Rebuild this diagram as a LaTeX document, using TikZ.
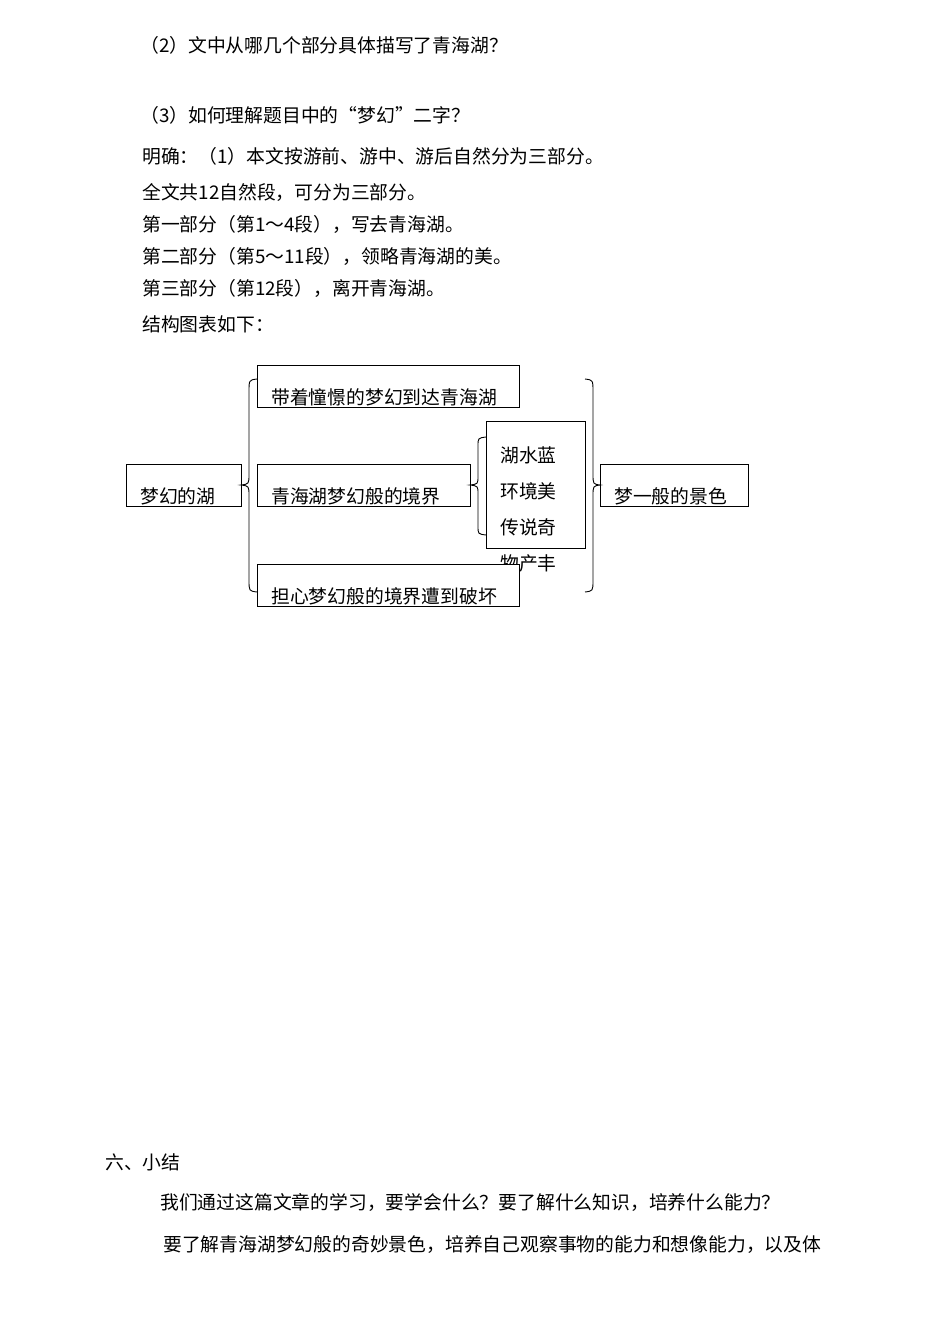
\documentclass[tikz,border=0pt]{standalone}
\usepackage{fontspec}
\setmainfont{Noto Sans CJK SC}
\begin{document}
\begin{tikzpicture}[x=1pt,y=-1pt,
 t/.style={anchor=base west,inner sep=0pt,font=\fontsize{18.8}{20}\selectfont},
 bx/.style={draw,line width=0.9pt,fill=white},
 br/.style={line width=0.9pt}]
\useasboundingbox (0,0) rectangle (950,1342);
\node[t] (l1) at (140,52) {（2）文中从哪几个部分具体描写了青海湖？};
\node[t] (l2) at (140,122) {（3）如何理解题目中的“梦幻”二字？};
\node[t] (l3) at (142,163) {明确：（1）本文按游前、游中、游后自然分为三部分。};
\node[t] (l4) at (142,199) {全文共12自然段，可分为三部分。};
\node[t] (l5) at (142,231) {第一部分（第1～4段），写去青海湖。};
\node[t] (l6) at (142,263) {第二部分（第5～11段），领略青海湖的美。};
\node[t] (l7) at (142,295) {第三部分（第12段），离开青海湖。};
\node[t] (l8) at (142,331) {结构图表如下：};
% boxes
\draw[bx] (126,464) rectangle (241,506); \node[t] (a) at (140,503) {梦幻的湖};
\draw[bx] (257,365) rectangle (519,407); \node[t] (b) at (271,404) {带着憧憬的梦幻到达青海湖};
\draw[bx] (257,464) rectangle (470,506); \node[t] (c) at (271,503) {青海湖梦幻般的境界};
\draw[bx] (486,421) rectangle (585,548);
\node[t] (e1) at (500,462) {湖水蓝};
\node[t] (e2) at (500,498) {环境美};
\node[t] (e3) at (500,534) {传说奇};
\node[t] (e4) at (500,570) {物产丰};
\draw[bx] (257,564) rectangle (519,606); \node[t] (d) at (271,603) {担心梦幻般的境界遭到破坏};
\draw[bx] (600,464) rectangle (748,506); \node[t] (f) at (614,503) {梦一般的景色};
% braces
\draw[br] (257,379) .. controls (249,380) .. (249,392) -- (249,474) .. controls (249,484) .. (241,485) .. controls (249,486) .. (249,496) -- (249,580) .. controls (249,591) .. (257,592);
\draw[br] (486,437) .. controls (478,438) .. (478,446) -- (478,476) .. controls (478,484) .. (470,485) .. controls (478,486) .. (478,494) -- (478,526) .. controls (478,534) .. (486,535);
\draw[br] (585,379) .. controls (593,380) .. (593,392) -- (593,474) .. controls (593,484) .. (600,485) .. controls (593,486) .. (593,496) -- (593,580) .. controls (593,591) .. (585,592);
\node[t] (s1) at (105,1169) {六、小结};
\node[t] (s2) at (160,1209) {我们通过这篇文章的学习，要学会什么？要了解什么知识，培养什么能力？};
\node[t] (s3) at (163,1251) {要了解青海湖梦幻般的奇妙景色，培养自己观察事物的能力和想像能力，以及体};
\end{tikzpicture}
\end{document}
